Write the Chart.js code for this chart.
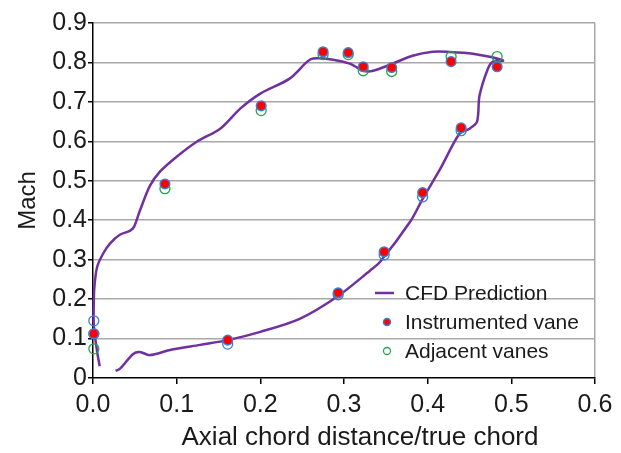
<!DOCTYPE html>
<html>
<head>
<meta charset="utf-8">
<script src="https://cdn.jsdelivr.net/npm/chart.js@4.4.1/dist/chart.umd.min.js"></script>
<style>
    html, body { margin: 0; padding: 0; background: #fff; }
    #wrap { width: 621px; height: 453px; }
</style>
</head>
<body>
<div id="wrap"><canvas id="chart"></canvas></div>
<script>
// CFD prediction, traced as one open loop (suction side up, pressure side back down)
const cfdX = [0.008, 0.005, 0.001, 0.001, 0.002, 0.005, 0.012, 0.020, 0.032, 0.044, 0.049, 0.056, 0.068, 0.080,
    0.100, 0.124, 0.152, 0.176, 0.200, 0.235, 0.256, 0.263, 0.287, 0.307, 0.323, 0.335, 0.358, 0.382,
    0.406, 0.423, 0.454, 0.490, 0.478, 0.472, 0.462, 0.459, 0.450, 0.438, 0.415, 0.394, 0.379, 0.343,
    0.331, 0.293, 0.247, 0.200, 0.161, 0.128, 0.092, 0.068, 0.056, 0.048, 0.032, 0.027];
const cfdY = [0.030, 0.066, 0.132, 0.200, 0.239, 0.282, 0.315, 0.340, 0.363, 0.373, 0.383, 0.424, 0.487, 0.523,
    0.561, 0.599, 0.632, 0.683, 0.721, 0.759, 0.802, 0.810, 0.807, 0.797, 0.779, 0.779, 0.797, 0.817,
    0.827, 0.827, 0.822, 0.805, 0.802, 0.784, 0.716, 0.650, 0.632, 0.619, 0.530, 0.454, 0.396, 0.294,
    0.272, 0.208, 0.150, 0.117, 0.096, 0.084, 0.071, 0.058, 0.066, 0.061, 0.023, 0.018];

const instX = [0.001, 0.086, 0.201, 0.275, 0.305, 0.323, 0.357, 0.428, 0.483, 0.440, 0.394, 0.348, 0.293, 0.161];
const instY = [0.112, 0.492, 0.690, 0.827, 0.825, 0.789, 0.787, 0.802, 0.789, 0.634, 0.470, 0.320, 0.216, 0.096];

const adjX = [0.001, 0.086, 0.201, 0.275, 0.305, 0.323, 0.357, 0.428, 0.483];
const adjY = [0.074, 0.480, 0.678, 0.820, 0.820, 0.779, 0.777, 0.815, 0.815];

// pressure-side adjacent vanes (blue open circles)
const adjPsX = [0.001, 0.001, 0.161, 0.293, 0.348, 0.394, 0.440];
const adjPsY = [0.145, 0.112, 0.086, 0.211, 0.312, 0.459, 0.627];

const xTicks = [0, 0.1, 0.2, 0.3, 0.4, 0.5, 0.6];
const yTicks = [0, 0.1, 0.2, 0.3, 0.4, 0.5, 0.6, 0.7, 0.8, 0.9];

const xTitle = 'Axial chord distance/true chord';
const yTitle = 'Mach';

const toPoints = (xs, ys) => xs.map((x, i) => ({ x, y: ys[i] }));

const PURPLE = '#7030a0';
const RED = '#ff0000';
const BLUE = '#3b7fd4';
const GREEN = '#22a650';
const GRID = '#a8a8a8';
const TEXT = '#1a1a1a';
const FONT = '"Liberation Sans", Arial, sans-serif';

const legendItems = [
    { label: 'CFD Prediction', kind: 'line', y: 293 },
    { label: 'Instrumented vane', kind: 'dot', y: 322 },
    { label: 'Adjacent vanes', kind: 'ring', y: 351 },
];

// legend sits inside the plot, bottom right; x title is drawn here too (it is off-centre in the original)
const legendPlugin = {
    id: 'cornerLegend',
    afterDraw(chart) {
        const ctx = chart.ctx;
        ctx.save();
        ctx.font = `21px ${FONT}`;
        ctx.fillStyle = TEXT;
        ctx.textBaseline = 'middle';
        legendItems.forEach((item) => {
            if (item.kind === 'line') {
                ctx.strokeStyle = PURPLE;
                ctx.lineWidth = 2.5;
                ctx.beginPath();
                ctx.moveTo(375, item.y);
                ctx.lineTo(394, item.y);
                ctx.stroke();
            } else if (item.kind === 'dot') {
                ctx.beginPath();
                ctx.arc(387, item.y, 3.5, 0, Math.PI * 2);
                ctx.fillStyle = RED;
                ctx.fill();
                ctx.strokeStyle = BLUE;
                ctx.lineWidth = 1.5;
                ctx.stroke();
            } else {
                ctx.beginPath();
                ctx.arc(387, item.y, 3.5, 0, Math.PI * 2);
                ctx.strokeStyle = GREEN;
                ctx.lineWidth = 1.3;
                ctx.stroke();
            }
            ctx.fillStyle = TEXT;
            ctx.fillText(item.label, 405, item.y + 1);
        });

        ctx.font = `26px ${FONT}`;
        ctx.textAlign = 'center';
        ctx.fillText(xTitle, 360, 438);
        ctx.restore();
    },
};

new Chart(document.getElementById('chart'), {
    type: 'scatter',
    data: {
        datasets: [
            {
                label: 'Instrumented vane',
                data: toPoints(instX, instY),
                backgroundColor: RED,
                borderColor: BLUE,
                borderWidth: 1.5,
                pointRadius: 4.8,
                clip: false,
                order: 0,
            },
            {
                label: 'Adjacent vanes',
                data: toPoints(adjX, adjY),
                backgroundColor: 'rgba(0,0,0,0)',
                borderColor: GREEN,
                borderWidth: 1.3,
                pointRadius: 5,
                clip: false,
                order: 1,
            },
            {
                label: 'Adjacent vanes (pressure side)',
                data: toPoints(adjPsX, adjPsY),
                backgroundColor: 'rgba(0,0,0,0)',
                borderColor: BLUE,
                borderWidth: 1.3,
                pointRadius: 5,
                clip: false,
                order: 2,
            },
            {
                label: 'CFD Prediction',
                data: toPoints(cfdX, cfdY),
                showLine: true,
                borderColor: PURPLE,
                borderWidth: 2.5,
                pointRadius: 0,
                tension: 0.3,
                clip: false,
                order: 3,
            },
        ],
    },
    options: {
        responsive: true,
        maintainAspectRatio: false,
        animation: false,
        layout: {
            padding: { top: 23, right: 26, left: 0, bottom: 0 },
        },
        plugins: {
            legend: { display: false },
            tooltip: { enabled: false },
        },
        scales: {
            x: {
                type: 'linear',
                min: 0,
                max: 0.6,
                afterBuildTicks: (scale) => { scale.ticks = xTicks.map((value) => ({ value })); },
                afterFit: (scale) => { scale.height = 75; },
                ticks: {
                    color: TEXT,
                    font: { family: FONT, size: 25 },
                    padding: 6,
                    callback: (value) => value.toFixed(1),
                },
                grid: {
                    drawOnChartArea: true,
                    color: (ctx) => (ctx.tick && ctx.tick.value === 0.6 ? GRID : 'rgba(0,0,0,0)'),
                    lineWidth: 1.5,
                    tickColor: '#000',
                    tickLength: 6,
                },
                border: { color: '#000', width: 1.5 },
                title: { display: false },
            },
            y: {
                type: 'linear',
                min: 0,
                max: 0.9,
                afterBuildTicks: (scale) => { scale.ticks = yTicks.map((value) => ({ value })); },
                afterFit: (scale) => { scale.width = 93; },
                ticks: {
                    color: TEXT,
                    font: { family: FONT, size: 25 },
                    padding: 1,
                    callback: (value) => (value === 0 ? '0' : value.toFixed(1)),
                },
                grid: {
                    color: (ctx) => (ctx.tick && ctx.tick.value === 0 ? 'rgba(0,0,0,0)' : GRID),
                    lineWidth: 1.5,
                    tickColor: '#000',
                    tickLength: 5,
                },
                border: { color: '#000', width: 1.5 },
                title: {
                    display: true,
                    text: yTitle,
                    color: TEXT,
                    font: { family: FONT, size: 24 },
                    padding: { top: 14, bottom: 4 },
                },
            },
        },
    },
    plugins: [legendPlugin],
});
</script>
</body>
</html>
